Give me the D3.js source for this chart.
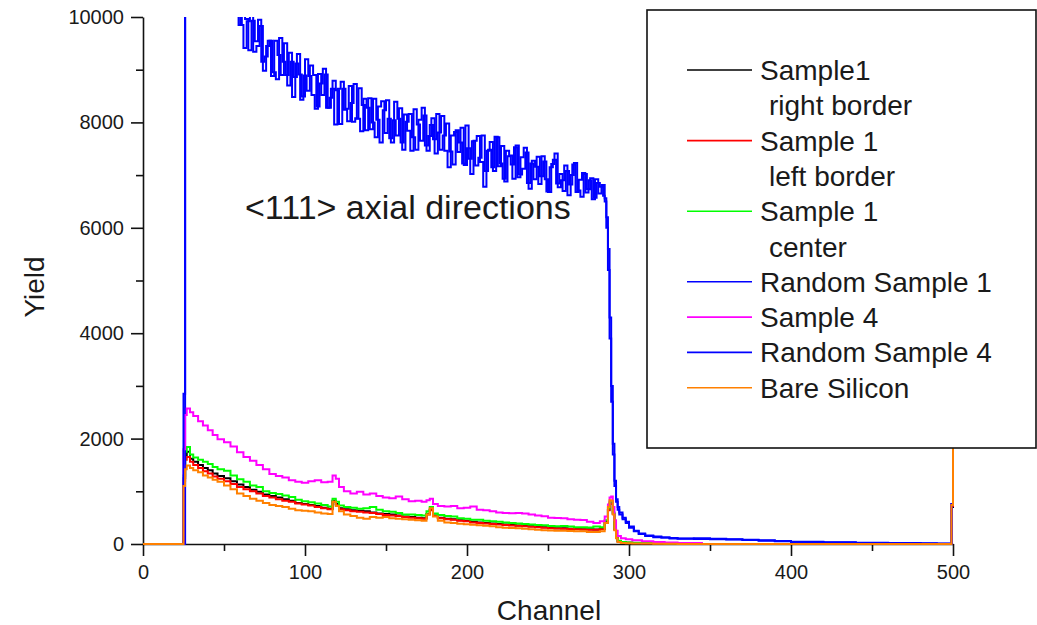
<!DOCTYPE html>
<html>
<head>
<meta charset="utf-8">
<script src="https://cdn.jsdelivr.net/npm/d3@7"></script>
<style>
  body { margin: 0; background: #fff; }
  svg { display: block; font-family: "Liberation Sans", Arial, sans-serif; }
</style>
</head>
<body>
<svg></svg>
<script>
///////////////////////////////////////////
////////////////// Data ///////////////////
///////////////////////////////////////////

// channel grid shared by the low (aligned) spectra
const lowChannels = [0, 24, 25, 26, 27, 29, 31, 34, 37, 40,
  43, 46, 50, 54, 58, 62, 66, 70, 74, 78,
  82, 86, 90, 94, 98, 102, 106, 110, 114, 117,
  119, 121, 124, 128, 132, 136, 140, 144, 148, 152,
  156, 160, 164, 168, 172, 175, 177, 179, 182, 186,
  190, 194, 198, 202, 206, 210, 214, 218, 222, 226,
  230, 234, 238, 242, 246, 250, 254, 258, 262, 266,
  270, 274, 278, 282, 285, 287, 288, 289, 290, 291,
  292, 293, 295, 298, 302, 308, 315, 322, 330, 345,
  498, 499, 500]

const sample1RightBorder = [0, 0, 1250, 1680, 1750, 1620, 1560, 1500, 1440, 1400,
  1340, 1290, 1250, 1190, 1130, 1080, 1030, 990, 940, 910,
  880, 850, 820, 780, 760, 740, 720, 690, 670, 820,
  760, 680, 660, 640, 630, 620, 600, 580, 570, 560,
  540, 520, 510, 500, 490, 570, 650, 540, 500, 480,
  470, 450, 440, 420, 410, 400, 390, 380, 370, 360,
  350, 345, 335, 325, 320, 305, 300, 300, 290, 285,
  280, 280, 275, 285, 420, 650, 770, 780, 580, 280,
  130, 50, 35, 25, 20, 15, 10, 8, 5, 0,
  0, 700, 3000]

const sample1LeftBorder = [0, 0, 1200, 1600, 1650, 1560, 1500, 1440, 1380, 1340,
  1280, 1240, 1190, 1140, 1080, 1040, 1000, 960, 910, 880,
  850, 820, 800, 770, 750, 730, 700, 680, 660, 800,
  740, 660, 640, 620, 610, 600, 590, 570, 550, 540,
  530, 510, 500, 490, 480, 560, 640, 530, 490, 470,
  460, 440, 430, 410, 400, 390, 380, 370, 360, 350,
  345, 335, 325, 320, 310, 300, 295, 290, 285, 280,
  275, 270, 270, 280, 410, 640, 760, 770, 570, 270,
  120, 45, 30, 25, 20, 15, 10, 5, 5, 0,
  0, 720, 3500]

const sample1Center = [0, 0, 1300, 1750, 1840, 1700, 1640, 1600, 1560, 1520,
  1460, 1420, 1390, 1300, 1230, 1180, 1110, 1080, 1000, 970,
  950, 920, 890, 840, 810, 790, 770, 740, 710, 860,
  800, 730, 700, 690, 670, 680, 700, 650, 620, 610,
  590, 560, 560, 550, 540, 620, 700, 580, 550, 530,
  520, 490, 480, 460, 460, 440, 430, 420, 410, 400,
  390, 380, 370, 360, 355, 340, 335, 340, 330, 320,
  320, 315, 330, 320, 450, 680, 800, 810, 600, 300,
  150, 60, 40, 30, 25, 20, 15, 10, 5, 0,
  0, 750, 4000]

const sample4 = [0, 0, 1800, 2450, 2570, 2500, 2430, 2330, 2250, 2160,
  2070, 1990, 1930, 1850, 1740, 1650, 1580, 1500, 1420, 1330,
  1290, 1260, 1210, 1180, 1160, 1190, 1210, 1170, 1180, 1300,
  1240, 1080, 1000, 960, 990, 940, 960, 910, 880, 870,
  900, 850, 810, 820, 800, 830, 860, 760, 720, 710,
  720, 680, 690, 710, 650, 640, 620, 600, 590, 585,
  590, 580, 560, 540, 525, 500, 495, 490, 470, 460,
  455, 420, 400, 430, 520, 750, 880, 900, 700, 450,
  250, 150, 110, 90, 70, 50, 40, 30, 20, 0,
  0, 750, 4000]

const bareSilicon = [0, 0, 1100, 1420, 1490, 1440, 1400, 1360, 1300, 1260,
  1220, 1180, 1110, 1040, 960, 910, 860, 820, 780, 740,
  720, 700, 670, 640, 630, 620, 600, 580, 570, 800,
  720, 620, 560, 530, 500, 480, 510, 500, 510, 490,
  480, 470, 460, 450, 440, 560, 680, 520, 440, 410,
  400, 385, 375, 365, 355, 345, 335, 320, 310, 305,
  300, 290, 280, 270, 262, 255, 250, 250, 245, 240,
  240, 230, 230, 240, 400, 700, 830, 820, 560, 260,
  110, 40, 20, 15, 10, 10, 5, 5, 0, 0,
  0, 740, 5000]

// channel grids for the two random spectra (even / odd channels in the middle)
const randomHeadChannels = [0, 10, 20, 24, 25, 26, 27, 40, 50, 56]
const randomTailChannels = [286, 287, 288, 289, 290, 291, 292, 293, 294,
  296, 298, 300, 303, 306, 310, 315, 320, 325, 330,
  340, 350, 360, 370, 380, 390, 400, 420, 440, 460,
  480, 490, 498, 499, 500]
const random1Channels = randomHeadChannels
  .concat(d3.range(58, 285, 2), [285], randomTailChannels)
const random4Channels = randomHeadChannels
  .concat(d3.range(59, 286, 2), randomTailChannels)

const randomSample1 = [0, 0, 0, 0, 0, 14000, 13000, 12000, 11200, 10800,
  10350, 9850, 9410, 9920, 10100, 9340, 9450, 9830, 8980, 9450,
  9550, 8950, 8820, 9600, 9150, 8900, 9320, 8480, 9120, 8910,
  8490, 9200, 8880, 8520, 8260, 8920, 8520, 8910, 8280, 8640,
  7960, 8640, 8770, 8240, 8020, 8370, 8730, 8070, 7830, 8450,
  8280, 7870, 8450, 8050, 7620, 8230, 8420, 7700, 8040, 7750,
  8270, 7480, 8010, 8160, 7720, 7480, 8050, 8280, 7560, 7740,
  8080, 7410, 7810, 8120, 7460, 7150, 7750, 7820, 7440, 7900,
  7190, 7510, 7020, 7650, 7740, 7250, 6780, 7460, 7630, 7080,
  7720, 7220, 6930, 7460, 7370, 6930, 7560, 7010, 7120, 7430,
  6740, 7270, 7160, 6830, 7360, 6920, 6680, 7210, 7410, 6770,
  6900, 7180, 6620, 7000, 7230, 6710, 6590, 7020, 6730, 6940,
  6570, 6850, 6780, 6610,
  6500,
  6200, 5600, 4300, 3000, 1900, 1200, 850, 700, 600,
  500, 420, 330, 250, 200, 160, 140, 125, 115, 105,
  110, 100, 90, 80, 70, 55, 45, 35, 25, 20,
  15, 10, 0, 750, 9000]

const randomSample4 = [0, 0, 0, 0, 2850, 13500, 12500, 11800, 11000, 10500,
  9850, 10300, 9960, 9370, 9930, 9540, 9950, 9150, 9250, 9550,
  8880, 9550, 9280, 8900, 9500, 8700, 9150, 8860, 9300, 8430,
  8890, 8600, 9080, 8900, 8300, 8740, 9020, 8280, 8470, 8790,
  8610, 7970, 8640, 8260, 8690, 8010, 8080, 8650, 8330, 7850,
  8460, 8000, 7720, 8300, 8400, 7800, 8070, 7620, 8390, 8070,
  7620, 8150, 7840, 7460, 8250, 7960, 7650, 8130, 7460, 7950,
  7680, 8160, 7480, 7750, 7980, 7450, 7200, 7850, 7620, 7220,
  7940, 7310, 7640, 7180, 7330, 7750, 7080, 7480, 7150, 7730,
  7170, 7550, 6880, 7360, 7200, 7530, 6960, 7340, 7520, 6850,
  7220, 6920, 7350, 6980, 7260, 6690, 7150, 7290, 6840, 7020,
  6700, 7080, 6820, 7200, 6680, 6910, 7040, 6670, 6900, 6540,
  6920, 6650, 6810, 6560,
  6000, 5200, 3900, 2700, 1700, 1100, 800, 650, 560,
  470, 400, 310, 240, 190, 150, 130, 125, 105, 100,
  95, 90, 85, 75, 60, 50, 40, 30, 20, 15,
  10, 5, 0, 760, 9000]

const legendLabels = [
  ["Sample1", "right border"],
  ["Sample 1", "left border"],
  ["Sample 1", "center"],
  ["Random Sample 1"],
  ["Sample 4"],
  ["Random Sample 4"],
  ["Bare Silicon"]
]

const yMajorTicks = [0, 2000, 4000, 6000, 8000, 10000]
const yMinorTicks = [1000, 3000, 5000, 7000, 9000]
const xMajorTicks = [0, 100, 200, 300, 400, 500]
const xMinorTicks = [50, 150, 250, 350, 450]

///////////////////////////////////////////
//////////////// Constants ////////////////
///////////////////////////////////////////
const width = 1037
const height = 625
const plotLeft = 143
const plotRight = 953
const plotTop = 17
const plotBottom = 544

const seriesColours = ["#000000", "#ff0000", "#00ff00", "#0000ff", "#ff00ff", "#0000ff", "#ff8000"]
const axisColour = "#111"
const textColour = "#1a1a1a"

const tickFont = 20
const titleFont = 28
const legendFont = 28

///////////////////////////////////////////
//////////// Helper Functions /////////////
///////////////////////////////////////////
const zipSeries = (channels, values) => channels.map((c, i) => [c, values[i]])

const series = [
  zipSeries(lowChannels, sample1RightBorder),
  zipSeries(lowChannels, sample1LeftBorder),
  zipSeries(lowChannels, sample1Center),
  zipSeries(random1Channels, randomSample1),
  zipSeries(lowChannels, sample4),
  zipSeries(random4Channels, randomSample4),
  zipSeries(lowChannels, bareSilicon)
]

///////////////////////////////////////////////////
/////////////// Main Graph Function ///////////////
///////////////////////////////////////////////////
function graph() {
  const svg = d3.select("svg")
    .attr("width", width)
    .attr("height", height)

  const x = d3.scaleLinear().domain([0, 500]).range([plotLeft, plotRight])
  const y = d3.scaleLinear().domain([0, 10000]).range([plotBottom, plotTop])

  svg.append("defs").append("clipPath")
    .attr("id", "plot-clip")
    .append("rect")
      .attr("x", plotLeft - 2)
      .attr("y", plotTop)
      .attr("width", plotRight - plotLeft + 6)
      .attr("height", plotBottom - plotTop + 4)

  ////////////////////////////
  ////////// Axes ////////////
  ////////////////////////////
  const styleAxis = g => {
    g.selectAll("path, line").attr("stroke", axisColour).attr("stroke-width", 1.6)
    g.selectAll("text")
      .attr("fill", textColour)
      .style("font-size", tickFont + "px")
      .style("font-family", "'Liberation Sans', Arial, sans-serif")
  }

  svg.append("g")
    .attr("transform", `translate(${plotLeft},0)`)
    .call(d3.axisLeft(y).tickValues(yMajorTicks).tickSize(12).tickSizeOuter(0).tickPadding(7).tickFormat(d3.format("d")))
    .call(styleAxis)

  svg.append("g")
    .attr("transform", `translate(${plotLeft},0)`)
    .call(d3.axisLeft(y).tickValues(yMinorTicks).tickSize(7).tickSizeOuter(0).tickFormat(""))
    .call(styleAxis)
    .call(g => g.select(".domain").remove())

  svg.append("g")
    .attr("transform", `translate(0,${plotBottom})`)
    .call(d3.axisBottom(x).tickValues(xMajorTicks).tickSize(12).tickSizeOuter(0).tickPadding(9))
    .call(styleAxis)

  svg.append("g")
    .attr("transform", `translate(0,${plotBottom})`)
    .call(d3.axisBottom(x).tickValues(xMinorTicks).tickSize(7).tickSizeOuter(0).tickFormat(""))
    .call(styleAxis)
    .call(g => g.select(".domain").remove())

  // axis titles
  svg.append("text")
    .attr("x", (plotLeft + plotRight) / 2 + 1)
    .attr("y", 620)
    .attr("text-anchor", "middle")
    .attr("fill", textColour)
    .style("font-size", titleFont + "px")
    .text("Channel")

  svg.append("text")
    .attr("transform", "translate(44,287) rotate(-90)")
    .attr("text-anchor", "middle")
    .attr("fill", textColour)
    .style("font-size", titleFont + "px")
    .text("Yield")

  ////////////////////////////
  ///////// Spectra //////////
  ////////////////////////////
  const line = d3.line()
    .x(d => x(d[0]))
    .y(d => y(d[1]))
    .curve(d3.curveStepAfter)

  svg.append("g")
    .attr("clip-path", "url(#plot-clip)")
    .selectAll("path")
    .data(series)
    .join("path")
      .attr("fill", "none")
      .attr("stroke", (d, i) => seriesColours[i])
      .attr("stroke-width", 2)
      .attr("d", line)

  // annotation
  svg.append("text")
    .attr("x", 245)
    .attr("y", 219)
    .attr("fill", textColour)
    .style("font-size", "34px")
    .text("<111> axial directions")

  ////////////////////////////
  ///////// Legend ///////////
  ////////////////////////////
  const legend = svg.append("g")
  legend.append("rect")
    .attr("x", 647)
    .attr("y", 10)
    .attr("width", 389)
    .attr("height", 438)
    .attr("fill", "#fff")
    .attr("stroke", axisColour)
    .attr("stroke-width", 1.6)

  const rowStep = 35.3
  let row = 0
  legendLabels.forEach((lines, i) => {
    const rowY = 70 + row * rowStep
    legend.append("line")
      .attr("x1", 687).attr("x2", 752)
      .attr("y1", rowY).attr("y2", rowY)
      .attr("stroke", seriesColours[i])
      .attr("stroke-width", 1.6)
    lines.forEach((t, j) => {
      legend.append("text")
        .attr("x", j === 0 ? 760 : 769)
        .attr("y", rowY + j * rowStep + 10)
        .attr("fill", textColour)
        .style("font-size", legendFont + "px")
        .text(t)
    })
    row += lines.length
  })
}

graph()
</script>
</body>
</html>
